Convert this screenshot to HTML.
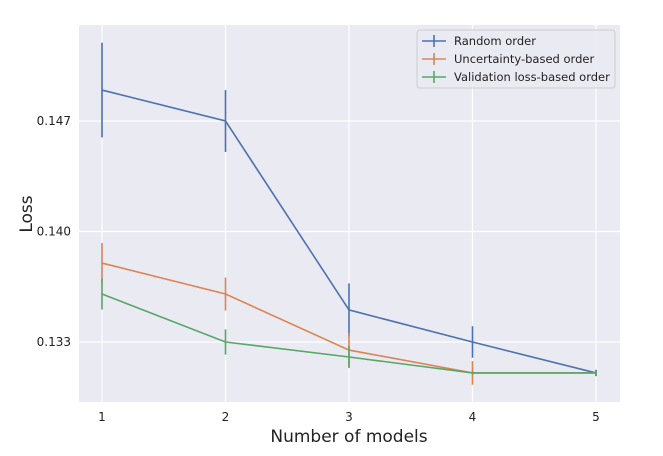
<!DOCTYPE html>
<html><head><meta charset="utf-8"><style>
body{margin:0;background:#fff;}
svg{display:block;font-family:"DejaVu Sans","Liberation Sans",sans-serif;}
</style></head><body>
<svg id="chart" width="663" height="456">
<rect x="79" y="25" width="541" height="377" fill="#eaeaf2"/>
<g id="grid"></g><g id="series"></g><g id="ticks"></g>
<text x="349" y="442" text-anchor="middle" font-size="17" fill="#222">Number of models</text>
<text x="32" y="214" text-anchor="middle" font-size="17" fill="#222" transform="rotate(-90 32 214)">Loss</text>
<g>
<rect x="417" y="30" width="198" height="58" rx="3" fill="#eaeaf2" stroke="#ccc" opacity="0.9"/>
<g id="legend"></g>
</g>
</svg>
<script>
const categories=[1,2,3,4,5];
const seriesNames=["Random order","Uncertainty-based order","Validation loss-based order"];
const colors=["#4c72b0","#dd8452","#55a868"];
const randomVals=[0.14896,0.1470,0.13503,0.1330,0.13104];
const randomErr=[0.0030,0.00196,0.00168,0.0010,0.0002];
const uncertVals=[0.1380,0.13604,0.13249,0.13104,0.13104];
const uncertErr=[0.00127,0.00105,0.0011,0.00075,0.0001];
const validVals=[0.13604,0.1330,0.13205,0.13104,0.13104];
const validErr=[0.00098,0.0008,0.0007,0.0001,0.0001];
const xTicks=[1,2,3,4,5];
const yTicks=[0.133,0.140,0.147];
const ns="http://www.w3.org/2000/svg";
const X=v=>102+(v-1)*123.5;
const Y=v=>342-(v-0.133)*15786;
function mk(tag,attrs,parent){const e=document.createElementNS(ns,tag);for(const k in attrs)e.setAttribute(k,attrs[k]);document.getElementById(parent).appendChild(e);return e;}
xTicks.forEach(t=>{
 const l=mk('line',{x1:X(t),x2:X(t),y1:25,y2:402,stroke:'#fff','stroke-width':1.2},'grid');
 
 
 const tx=mk('text',{x:X(t),y:421,'text-anchor':'middle','font-size':12,fill:'#222'},'ticks');
 tx.textContent=t;
 
 
});
yTicks.forEach(t=>{
 const l=mk('line',{x1:79,x2:620,y1:Y(t),y2:Y(t),stroke:'#fff','stroke-width':1.2},'grid');
 
 
 const tx=mk('text',{x:71,y:Y(t)+4,'text-anchor':'end','font-size':12,fill:'#222'},'ticks');
 tx.textContent=t.toFixed(3);
 
 
});
const all=[[randomVals,randomErr],[uncertVals,uncertErr],[validVals,validErr]];
all.forEach(([vals,errs],i)=>{
 const p=mk('polyline',{points:vals.map((v,j)=>X(categories[j])+','+Y(v)).join(' '),fill:'none',stroke:colors[i],'stroke-width':1.6},'series');
 
 
 vals.forEach((v,j)=>{
  const e=mk('line',{x1:X(categories[j]),x2:X(categories[j]),y1:Y(v-errs[j]),y2:Y(v+errs[j]),stroke:colors[i],'stroke-width':1.6},'series');
  
  
 });
});
seriesNames.forEach((n,i)=>{
 const y=41+i*18;
 const l=mk('line',{x1:422,x2:446,y1:y,y2:y,stroke:colors[i],'stroke-width':1.6},'legend');
 
 
 const v=mk('line',{x1:434,x2:434,y1:y-6,y2:y+6,stroke:colors[i],'stroke-width':1.6},'legend');
 
 
 const t=mk('text',{x:454,y:y+4,'font-size':11.5,fill:'#222'},'legend');
 t.textContent=n;
 
 
});
</script>
</body></html>
